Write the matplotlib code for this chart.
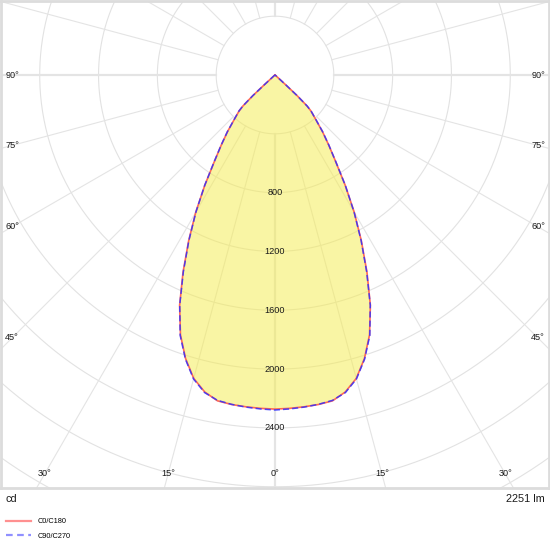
import numpy as np
import matplotlib
matplotlib.use("Agg")
import matplotlib.pyplot as plt
from matplotlib.lines import Line2D

plt.rcParams['font.family'] = ['Liberation Sans', 'DejaVu Sans']

# luminous intensity (cd) against gamma angle (deg from nadir)
gamma = [0, 2.5, 5, 7.5, 10, 12.5, 15, 17.5, 20, 22.5, 25, 27.5, 30, 32.5, 35,
         37.5, 40, 42.5, 45, 46, 47, 47.5, 48, 50, 55, 60, 70, 80, 90]
c0_c180 = [2272, 2269, 2265, 2260, 2250, 2208, 2136, 2022, 1880, 1695, 1480, 1272,
           1078, 888, 720, 600, 502, 410, 345, 302, 205, 105, 40, 10, 4, 2, 1, 0, 0]
c90_c270 = [2278, 2273, 2267, 2259, 2247, 2212, 2140, 2026, 1885, 1693, 1474, 1268,
            1075, 890, 722, 602, 504, 412, 347, 304, 207, 107, 42, 11, 4, 2, 1, 0, 0]

ring_values = [400, 800, 1200, 1600, 2000, 2400, 2800, 3200, 3600, 4000]
ring_labels = [800, 1200, 1600, 2000, 2400]
angle_labels = [0, 15, 30, 45, 60, 75, 90]
flux_text = "2251 lm"
unit_text = "cd"
series_names = ["C0/C180", "C90/C270"]

k = 6.8  # cd per pixel

fig = plt.figure(figsize=(5.5, 5.5), dpi=100)
ax = fig.add_axes([1 / 550, 62 / 550, 548 / 550, 487 / 550])
ax.set_xlim(-274 * k, 274 * k)
ax.set_ylim(-413 * k, 74 * k)
ax.set_xticks([])
ax.set_yticks([])
for sp in ax.spines.values():
    sp.set_color('#dcdcdc')
    sp.set_linewidth(2)

# polar grid
t = np.linspace(0, 2 * np.pi, 721)
for r in ring_values:
    ax.plot(r * np.sin(t), r * np.cos(t), color='#e2e2e2', lw=0.8, zorder=1)
for a in range(0, 360, 15):
    ar = np.radians(a)
    lw = 1.6 if a % 90 == 0 else 0.8
    ax.plot([400 * np.sin(ar), 5000 * np.sin(ar)],
            [-400 * np.cos(ar), -5000 * np.cos(ar)],
            color='#e4e4e4', lw=lw, zorder=1)


def curve(values):
    g = np.radians(np.array(gamma))
    v = np.array(values, dtype=float)
    x = np.concatenate([-(v * np.sin(g))[::-1], (v * np.sin(g))[1:]])
    y = np.concatenate([-(v * np.cos(g))[::-1], -(v * np.cos(g))[1:]])
    return x, y


x0, y0 = curve(c0_c180)
x90, y90 = curve(c90_c270)
ax.fill(x0, y0, color='#f5ec4a', alpha=0.5, lw=0, zorder=2)
ax.plot(x0, y0, color='#ff5040', lw=1.2, alpha=0.85, zorder=4,
        solid_joinstyle='round')
ax.plot(x90, y90, color='#3030ff', lw=1.1, alpha=0.85, ls=(0, (4, 2)), zorder=5)

for r in ring_labels:
    ax.text(0, -r, str(r), ha='center', va='center', fontsize=6.6,
            color='#1a1a1a', zorder=3)

# angle labels along the inner edge of the frame
xs, yb = 263 * k, 399 * k
for a in angle_labels:
    ar = np.radians(a)
    s, c = np.sin(ar), np.cos(ar)
    dist = min(xs / s if s > 1e-9 else np.inf, yb / c if c > 1e-9 else np.inf)
    for sign in (-1, 1):
        if a == 0 and sign == -1:
            continue
        ax.text(sign * dist * s, -dist * c, f"{a}°", ha='center', va='center',
                fontsize=6.6, color='#1a1a1a', zorder=3)

fig.text(5 / 550, 1 - 499 / 550, unit_text, ha='left', va='center',
         fontsize=7.8, color='#1a1a1a')
fig.text(545 / 550, 1 - 499 / 550, flux_text, ha='right', va='center',
         fontsize=7.8, color='#1a1a1a')

handles = [Line2D([], [], color='#ff9090', lw=1.6),
           Line2D([], [], color='#9090ff', lw=1.6, ls=(0, (3, 2)))]
fig.legend(handles, series_names, loc='upper left',
           bbox_to_anchor=(6 / 550, 1 - 518 / 550), frameon=False,
           fontsize=5.3, handlelength=3.4, handletextpad=0.85,
           labelspacing=1.0, borderpad=0, borderaxespad=0)

fig.savefig('out.png', dpi=100)
